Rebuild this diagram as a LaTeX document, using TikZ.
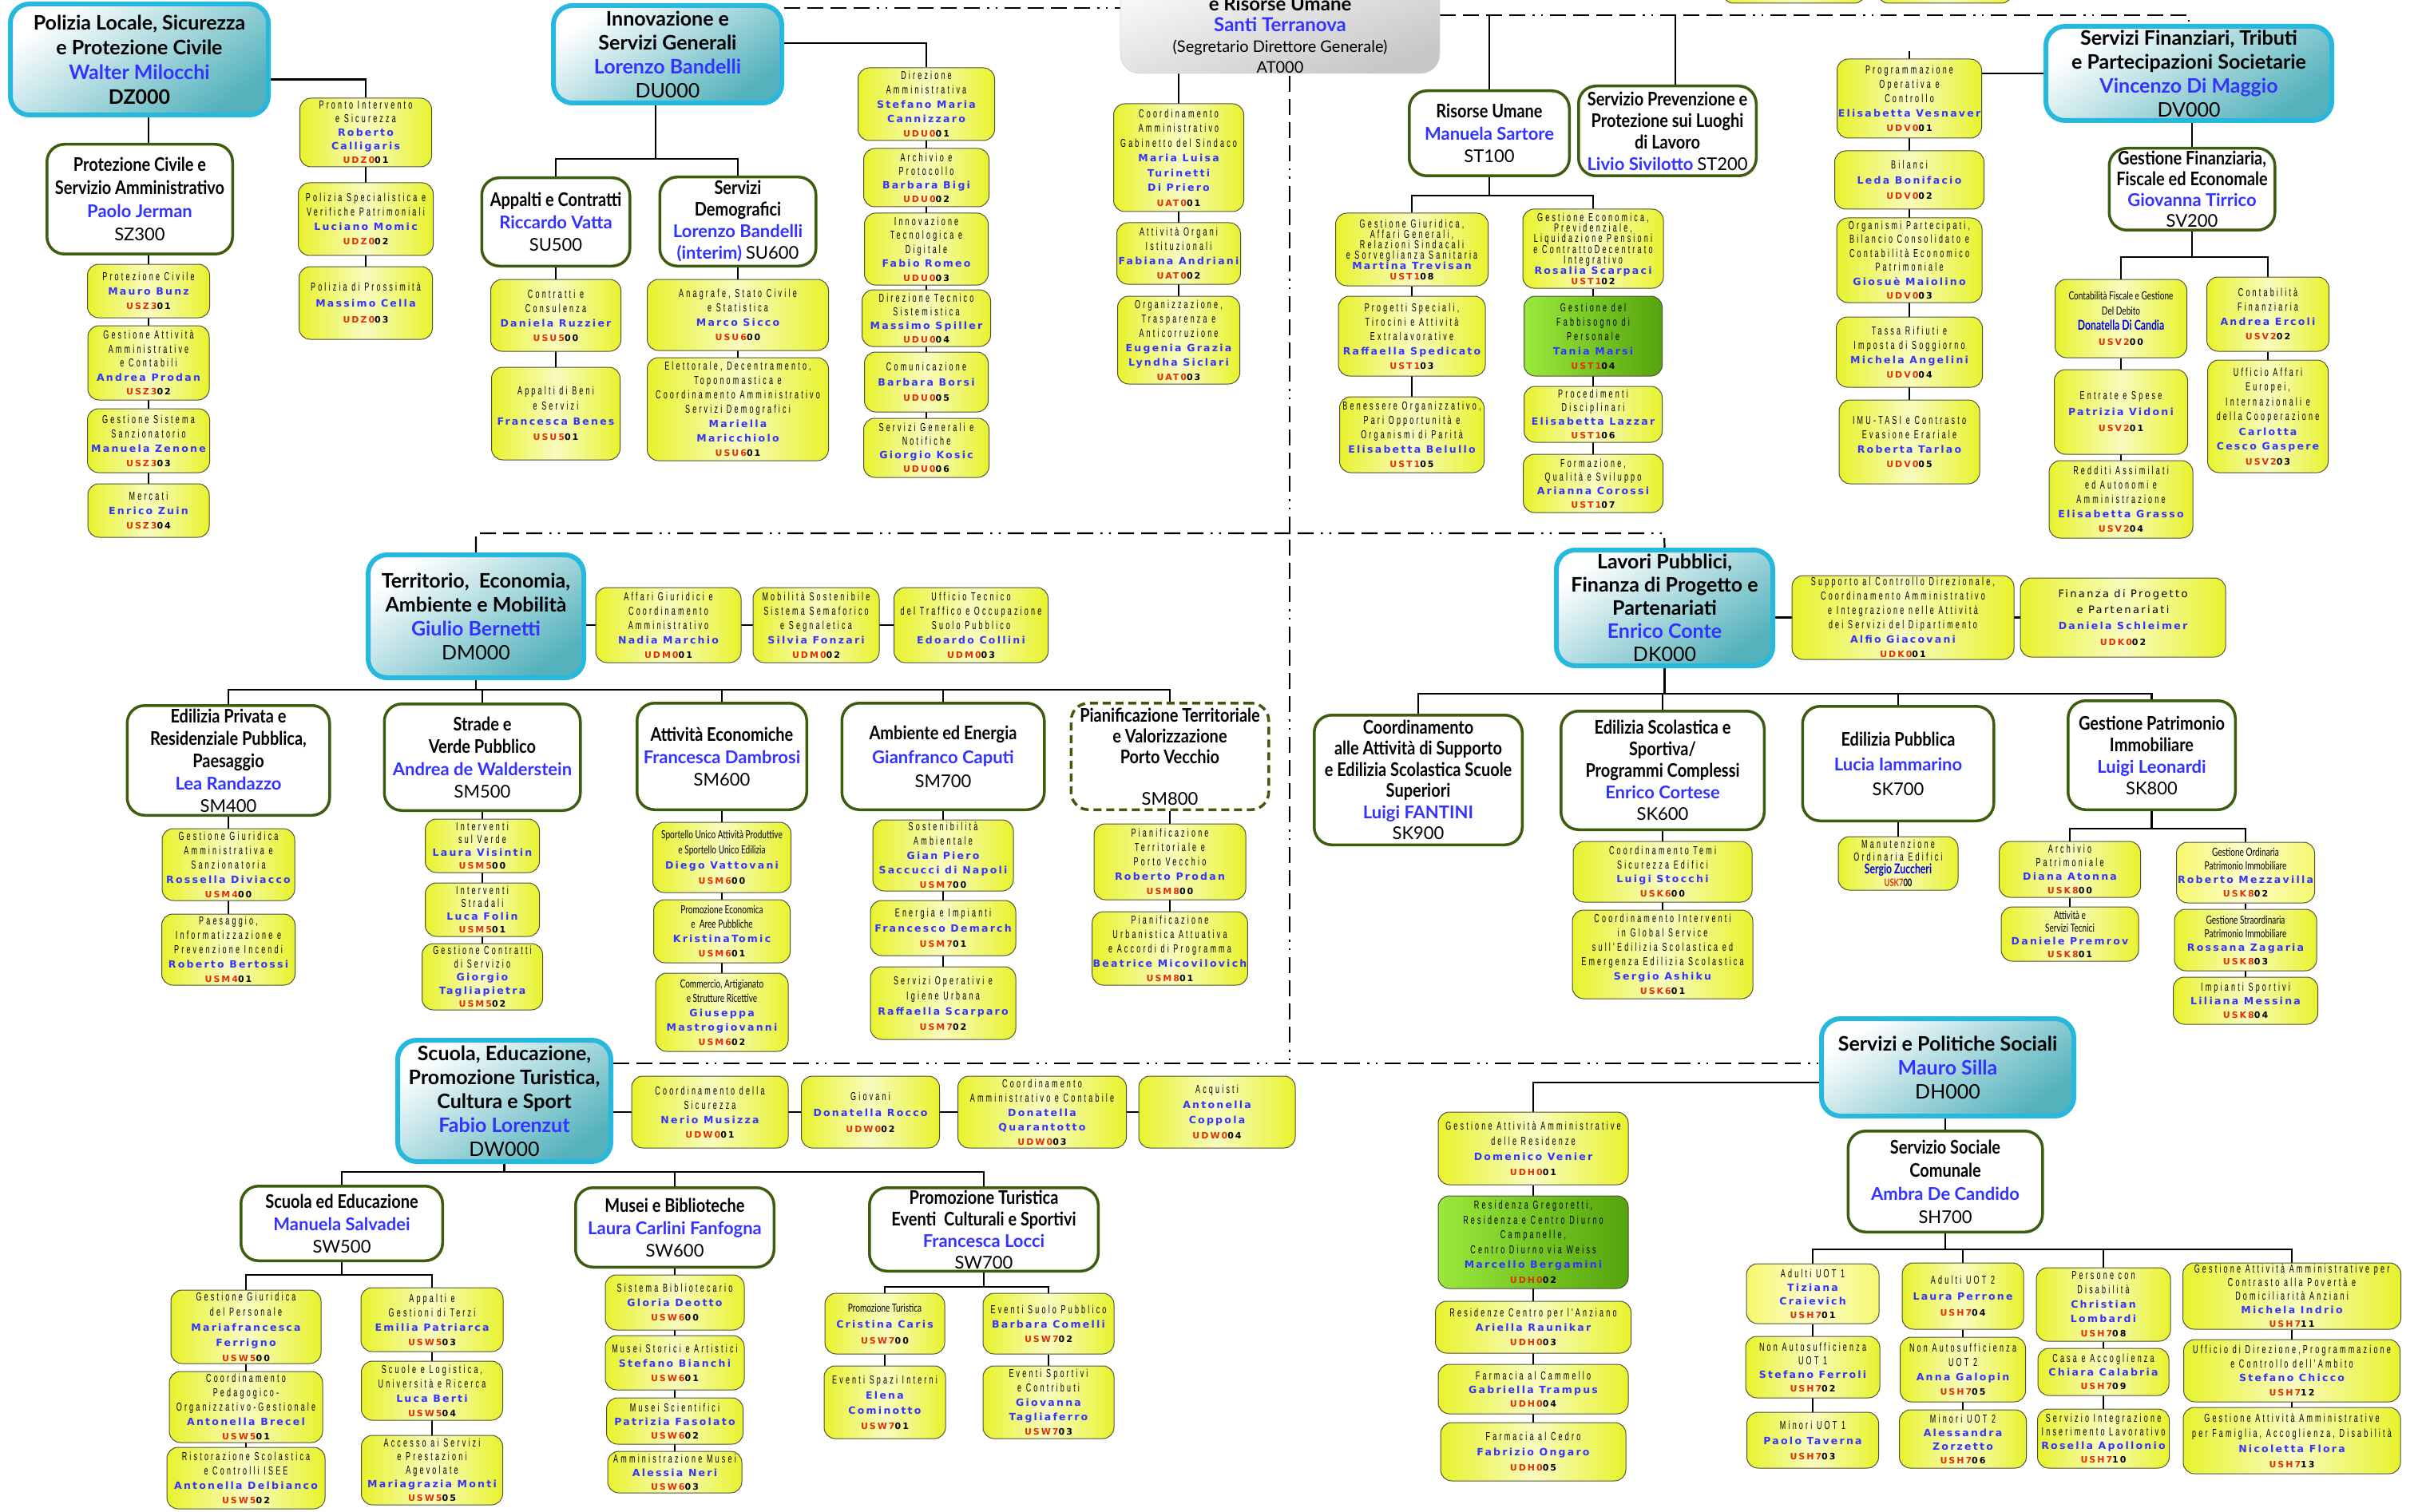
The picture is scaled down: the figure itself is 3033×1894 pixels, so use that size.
\documentclass[tikz,border=0pt]{standalone}
\usepackage{fontspec}
\usetikzlibrary{calc}
\pgfdeclarelayer{bg}\pgfdeclarelayer{lines}\pgfsetlayers{bg,lines,main}
\newfontfamily\dfont{Lato}
\newfontfamily\sfontc[FakeStretch=0.85]{Lato}
\newfontfamily\ufont[FakeStretch=0.62,LetterSpace=22]{Liberation Sans}
\newfontfamily\nfont[LetterSpace=18]{DejaVu Sans}
\newfontfamily\cfont[FakeStretch=0.72]{Lato}
\definecolor{dcyan}{RGB}{40,184,222}
\definecolor{dteal}{RGB}{84,178,188}
\definecolor{sgreen}{RGB}{62,92,14}
\definecolor{uyel}{RGB}{232,243,45}
\definecolor{ulight}{RGB}{248,251,190}
\definecolor{ugray}{RGB}{80,80,60}
\definecolor{nblue}{RGB}{51,51,255}
\definecolor{cblue}{RGB}{0,0,230}
\definecolor{cred}{RGB}{226,48,0}
\definecolor{lgreen}{RGB}{155,232,60}
\definecolor{dgreen}{RGB}{84,164,12}
\definecolor{lyel}{RGB}{246,248,110}
\definecolor{lyel2}{RGB}{252,252,205}
\tikzset{
 conn/.style={line width=2.4pt,black},
 dd/.style={line width=2.2pt,black,dash pattern=on 20pt off 9pt on 20pt off 9pt on 20pt off 9pt on 20pt off 9pt on 2.5pt off 8pt on 2.5pt off 9pt},
 dbox/.style={draw=dcyan,line width=6pt,rounded corners=24pt,top color=white,bottom color=dteal,shading angle=35,align=center,inner sep=1pt},
 atbox/.style={rounded corners=24pt,top color=white,bottom color=black!22,shading angle=20,draw=black!15,line width=0.6pt},
 sbox/.style={draw=sgreen,line width=3.5pt,rounded corners=22pt,fill=white,align=center,inner sep=1pt},
 sboxd/.style={sbox,dash pattern=on 10pt off 6pt},
 ubox/.style={draw=ugray,line width=1pt,rounded corners=14pt,left color=uyel,right color=uyel,middle color=ulight,align=center,inner sep=1pt},
 gbox/.style={ubox,left color=lgreen,right color=dgreen},
 lbox/.style={ubox,left color=lyel,right color=lyel,middle color=lyel2},
}
\newcommand\UB[8]{\node[#1,minimum width=#5pt,minimum height={(#7-#6)*1pt},font=\ufont\fontsize{14.5}{#2}\selectfont] (#3) at (#4,{(#6+#7)/2}) {#8};}
\newcommand\SB[8]{\node[#1,minimum width={(#5-3.5)*1pt},minimum height={(#7-#6-3.5)*1pt},font=\sfontc\bfseries\fontsize{23.5}{#2}\selectfont] (#3) at (#4,{(#6+#7)/2}) {#8};}
\newcommand\DB[7]{\node[dbox,minimum width={(#4-6)*1pt},minimum height={(#6-#5-6)*1pt},font=\dfont\bfseries\fontsize{25}{#1}\selectfont] (#2) at (#3,{(#5+#6)/2}) {#7};}
\newcommand\unm[1]{{\nfont\bfseries\fontsize{12.5}{12.5}\selectfont\color{nblue}#1}}
\newcommand\ucd[2]{{\nfont\bfseries\fontsize{11}{11}\selectfont\color{cred}#1\color{black}#2}}
\newcommand\uct[1]{{\cfont\fontsize{14}{14}\selectfont #1}}
\newcommand\ucn[1]{{\cfont\bfseries\fontsize{17}{17}\selectfont\color{cblue}#1}}
\newcommand\ucc[2]{{\cfont\bfseries\fontsize{13}{13}\selectfont\color{cred}#1\color{black}#2}}
\newcommand\uwt[1]{{\nfont\fontsize{13}{13}\selectfont #1}}
\newcommand\snm[1]{{\dfont\fontsize{22}{22}\selectfont\color{nblue}#1}}
\newcommand\scd[1]{{\dfont\mdseries\fontsize{22}{22}\selectfont #1}}
\newcommand\dnm[1]{{\color{nblue}#1}}
\newcommand\dcd[1]{{\mdseries #1}}
\begin{document}
\begin{tikzpicture}[x=1pt,y=-1pt]
\begin{pgfonlayer}{bg}\fill[white] (0,0) rectangle (3033,1894);\end{pgfonlayer}
\useasboundingbox (0,0) rectangle (3033,1894);

% ---------- directions ----------
\DB{31}{DZ}{174.5}{329}{2}{147}{Polizia Locale, Sicurezza\\e Protezione Civile\\\dnm{Walter Milocchi}\\DZ000}
\DB{30}{DU}{836}{292}{4}{132}{Innovazione e\\Servizi Generali\\\dnm{Lorenzo Bandelli}\\\dcd{DU000}}
\DB{30}{DV}{2741}{364}{30}{154}{Servizi Finanziari, Tributi\\e Partecipazioni Societarie\\\dnm{Vincenzo Di Maggio}\\\dcd{DV000}}
\DB{30}{DM}{596}{276}{692}{852}{Territorio,\ \ Economia,\\Ambiente e Mobilità\\\dnm{Giulio Bernetti}\\\dcd{DM000}}
\DB{29}{DK}{2084.5}{277}{686}{837}{Lavori Pubblici,\\Finanza di Progetto e\\Partenariati\\\dnm{Enrico Conte}\\\dcd{DK000}}
\DB{30}{DW}{631.5}{273}{1300}{1458}{Scuola, Educazione,\\Promozione Turistica,\\Cultura e Sport\\\dnm{Fabio Lorenzut}\\\dcd{DW000}}
\DB{30}{DH}{2439}{322}{1273}{1401}{Servizi e Politiche Sociali\\\dnm{Mauro Silla}\\\dcd{DH000}}
\node[atbox,minimum width=400pt,minimum height=152pt] (AT) at (1603,16) {};
\node[align=center,font=\dfont\fontsize{20}{26}\selectfont,inner sep=0pt] (ATtxt) at (1603,44) {{\bfseries\fontsize{24}{24}\selectfont e Risorse Umane}\\{\bfseries\fontsize{24}{24}\selectfont\color{nblue}Santi Terranova}\\(Segretario Direttore Generale)\\AT000};
\node[ubox,minimum width=179pt,minimum height=50pt] (topA) at (2246.5,-21) {};
\node[ubox,minimum width=169pt,minimum height=50pt] (topB) at (2435.5,-21) {};

% ---------- services ----------
\SB{sbox}{29}{SZ300}{175}{236}{179}{320}{Protezione Civile e\\Servizio Amministrativo\\\snm{Paolo Jerman}\\\scd{SZ300}}
\SB{sbox}{28}{SU500}{696}{189}{221}{335}{Appalti e Contratti\\\snm{Riccardo Vatta}\\\scd{SU500}}
\SB{sbox}{27}{SU600}{924}{199}{220}{335}{Servizi\\Demografici\\\snm{Lorenzo Bandelli}\\\snm{(interim)} \scd{SU600}}
\SB{sbox}{28}{ST100}{1865}{204}{112}{222}{Risorse Umane\\\snm{Manuela Sartore}\\\scd{ST100}}
\SB{sbox}{27}{ST200}{2088}{226}{106}{222}{Servizio Prevenzione e\\Protezione sui Luoghi\\di Lavoro\\\snm{Livio Sivilotto} \scd{ST200}}
\SB{sbox}{26}{SV200}{2745}{211}{184}{290}{Gestione Finanziaria,\\Fiscale ed Economale\\\snm{Giovanna Tirrico}\\\scd{SV200}}
\SB{sbox}{28}{SM400}{286}{257}{882}{1023}{Edilizia Privata e\\Residenziale Pubblica,\\Paesaggio\\\snm{Lea Randazzo}\\\scd{SM400}}
\SB{sbox}{28}{SM500}{604}{249}{880}{1017}{Strade e\\Verde Pubblico\\\snm{Andrea de Walderstein}\\\scd{SM500}}
\SB{sbox}{28}{SM600}{904}{216}{879}{1016}{Attività Economiche\\\snm{Francesca Dambrosi}\\\scd{SM600}}
\SB{sbox}{30}{SM700}{1181}{257}{879}{1016}{Ambiente ed Energia\\\snm{Gianfranco Caputi}\\\scd{SM700}}
\SB{sboxd}{26}{SM800}{1465}{251}{879}{1016}{Pianificazione Territoriale\\e Valorizzazione\\Porto Vecchio\\\mbox{}\\\scd{SM800}}
\SB{sbox}{26.5}{SK900}{1776}{264}{894}{1060}{Coordinamento\\alle Attività di Supporto\\e Edilizia Scolastica Scuole\\Superiori\\\snm{Luigi FANTINI}\\\scd{SK900}}
\SB{sbox}{27}{SK600}{2082}{258}{889}{1041}{Edilizia Scolastica e\\Sportiva/\\Programmi Complessi\\\snm{Enrico Cortese}\\\scd{SK600}}
\SB{sbox}{31}{SK700}{2377}{243}{883}{1030}{Edilizia Pubblica\\\snm{Lucia Iammarino}\\\scd{SK700}}
\SB{sbox}{27}{SK800}{2694.5}{213}{876}{1016}{Gestione Patrimonio\\Immobiliare\\\snm{Luigi Leonardi}\\\scd{SK800}}
\SB{sbox}{28}{SW500}{428}{256}{1484}{1581}{Scuola ed Educazione\\\snm{Manuela Salvadei}\\\scd{SW500}}
\SB{sbox}{28}{SW600}{845}{252}{1486}{1589}{Musei e Biblioteche\\\snm{Laura Carlini Fanfogna}\\\scd{SW600}}
\SB{sbox}{27}{SW700}{1232}{290}{1486}{1594}{Promozione Turistica\\Eventi\ \ Culturali e Sportivi\\\snm{Francesca Locci}\\\scd{SW700}}
\SB{sbox}{29}{SH700}{2436}{247}{1415}{1545}{Servizio Sociale\\Comunale\\\snm{Ambra De Candido}\\\scd{SH700}}

% ---------- units: DZ ----------
\UB{ubox}{17}{UDZ001}{458}{165}{123}{209}{Pronto Intervento\\e Sicurezza\\\unm{Roberto}\\\unm{Calligaris}\\\ucd{UDZ0}{01}}
\UB{ubox}{18}{UDZ002}{458}{169}{229}{320}{Polizia Specialistica e\\Verifiche Patrimoniali\\\unm{Luciano Momic}\\\ucd{UDZ0}{02}}
\UB{ubox}{20}{UDZ003}{458}{167}{334}{425}{Polizia di Prossimità\\\unm{Massimo Cella}\\\ucd{UDZ0}{03}}
\UB{ubox}{18}{USZ301}{186}{153}{331}{398}{Protezione Civile\\\unm{Mauro Bunz}\\\ucd{USZ3}{01}}
\UB{ubox}{17.5}{USZ302}{186}{152}{408}{501}{Gestione Attività\\Amministrative\\e Contabili\\\unm{Andrea Prodan}\\\ucd{USZ3}{02}}
\UB{ubox}{18}{USZ303}{186}{153}{512}{592}{Gestione Sistema\\Sanzionatorio\\\unm{Manuela Zenone}\\\ucd{USZ3}{03}}
\UB{ubox}{18}{USZ304}{186}{152}{606}{673}{Mercati\\\unm{Enrico Zuin}\\\ucd{USZ3}{04}}
% DU
\UB{ubox}{18}{USU500}{696}{163}{350}{440}{Contratti e\\Consulenza\\\unm{Daniela Ruzzier}\\\ucd{USU5}{00}}
\UB{ubox}{19}{USU501}{696}{161}{460}{576}{Appalti di Beni\\e Servizi\\\unm{Francesca Benes}\\\ucd{USU5}{01}}
\UB{ubox}{18}{USU600}{924}{227}{350}{439}{Anagrafe, Stato Civile\\e Statistica\\\unm{Marco Sicco}\\\ucd{USU6}{00}}
\UB{ubox}{18}{USU601}{924}{227}{448}{577}{Elettorale, Decentramento,\\Toponomastica e\\Coordinamento Amministrativo\\Servizi Demografici\\\unm{Mariella}\\\unm{Maricchiolo}\\\ucd{USU6}{01}}
\UB{ubox}{18}{UDU001}{1160}{171}{85}{176}{Direzione\\Amministrativa\\\unm{Stefano Maria}\\\unm{Cannizzaro}\\\ucd{UDU0}{01}}
\UB{ubox}{17}{UDU002}{1160}{157}{186}{259}{Archivio e\\Protocollo\\\unm{Barbara Bigi}\\\ucd{UDU0}{02}}
\UB{ubox}{17.5}{UDU003}{1160}{155}{267}{357}{Innovazione\\Tecnologica e\\Digitale\\\unm{Fabio Romeo}\\\ucd{UDU0}{03}}
\UB{ubox}{17}{UDU004}{1160}{161}{363}{434}{Direzione Tecnico\\Sistemistica\\\unm{Massimo Spiller}\\\ucd{UDU0}{04}}
\UB{ubox}{19}{UDU005}{1160}{155}{441}{516}{Comunicazione\\\unm{Barbara Borsi}\\\ucd{UDU0}{05}}
\UB{ubox}{17}{UDU006}{1160}{157}{524}{598}{Servizi Generali e\\Notifiche\\\unm{Giorgio Kosic}\\\ucd{UDU0}{06}}
% AT
\UB{ubox}{18.5}{UAT001}{1476}{163}{130}{265}{Coordinamento\\Amministrativo\\Gabinetto del Sindaco\\\unm{Maria Luisa}\\\unm{Turinetti}\\\unm{Di Priero}\\\ucd{UAT0}{01}}
\UB{ubox}{18}{UAT002}{1476}{155}{279}{356}{Attività Organi\\Istituzionali\\\unm{Fabiana Andriani}\\\ucd{UAT0}{02}}
\UB{ubox}{18}{UAT003}{1476}{153}{371}{481}{Organizzazione,\\Trasparenza e\\Anticorruzione\\\unm{Eugenia Grazia}\\\unm{Lyndha Siclari}\\\ucd{UAT0}{03}}
% ST
\UB{ubox}{13}{UST108}{1768}{191}{267}{358}{Gestione Giuridica,\\Affari Generali,\\Relazioni Sindacali\\e Sorveglianza Sanitaria\\\unm{Martina Trevisan}\\\ucd{UST1}{08}}
\UB{ubox}{18}{UST103}{1768}{184}{371}{471}{Progetti Speciali,\\Tirocini e Attività\\Extralavorative\\\unm{Raffaella Spedicato}\\\ucd{UST1}{03}}
\UB{ubox}{18}{UST105}{1768}{181}{497}{592}{Benessere Organizzativo,\\Pari Opportunità e\\Organismi di Parità\\\unm{Elisabetta Belullo}\\\ucd{UST1}{05}}
\UB{ubox}{13}{UST102}{1995}{176}{262}{361}{Gestione Economica,\\Previdenziale,\\Liquidazione Pensioni\\e ContrattoDecentrato\\Integrativo\\\unm{Rosalia Scarpaci}\\\ucd{UST1}{02}}
\UB{gbox}{18}{UST104}{1995}{173}{371}{471}{Gestione del\\Fabbisogno di\\Personale\\\unm{Tania Marsi}\\\ucd{UST1}{04}}
\UB{ubox}{17}{UST106}{1995}{173}{484}{554}{Procedimenti\\Disciplinari\\\unm{Elisabetta Lazzar}\\\ucd{UST1}{06}}
\UB{ubox}{17}{UST107}{1995}{175}{569}{642}{Formazione,\\Qualità e Sviluppo\\\unm{Arianna Corossi}\\\ucd{UST1}{07}}
% DV
\UB{ubox}{18}{UDV001}{2391}{181}{74}{173}{Programmazione\\Operativa e\\Controllo\\\unm{Elisabetta Vesnaver}\\\ucd{UDV0}{01}}
\UB{ubox}{19}{UDV002}{2391}{187}{189}{262}{Bilanci\\\unm{Leda Bonifacio}\\\ucd{UDV0}{02}}
\UB{ubox}{17.5}{UDV003}{2391}{182}{273}{379}{Organismi Partecipati,\\Bilancio Consolidato e\\Contabilità Economico\\Patrimoniale\\\unm{Giosuè Maiolino}\\\ucd{UDV0}{03}}
\UB{ubox}{18}{UDV004}{2391}{183}{397}{485}{Tassa Rifiuti e\\Imposta di Soggiorno\\\unm{Michela Angelini}\\\ucd{UDV0}{04}}
\UB{ubox}{18}{UDV005}{2391}{176}{501}{606}{IMU-TASI e Contrasto\\Evasione Erariale\\\unm{Roberta Tarlao}\\\ucd{UDV0}{05}}
\UB{ubox}{19}{USV200}{2656}{165}{350}{448}{\uct{Contabilità Fiscale e Gestione}\\\uct{Del Debito}\\\ucn{Donatella Di Candia}\\\ucd{USV2}{00}}
\UB{ubox}{20}{USV201}{2656}{167}{463}{569}{Entrate e Spese\\\unm{Patrizia Vidoni}\\\ucd{USV2}{01}}
\UB{ubox}{18}{USV204}{2656}{180}{577}{674}{Redditi Assimilati\\ed Autonomi e\\Amministrazione\\\unm{Elisabetta Grasso}\\\ucd{USV2}{04}}
\UB{ubox}{18}{USV202}{2840}{153}{347}{440}{Contabilità\\Finanziaria\\\unm{Andrea Ercoli}\\\ucd{USV2}{02}}
\UB{ubox}{18.5}{USV203}{2840}{151}{451}{592}{Ufficio Affari\\Europei,\\Internazionali e\\della Cooperazione\\\unm{Carlotta}\\\unm{Cesco Gaspere}\\\ucd{USV2}{03}}
% DM
\UB{ubox}{18}{UDM001}{837}{182}{736}{830}{Affari Giuridici e\\Coordinamento\\Amministrativo\\\unm{Nadia Marchio}\\\ucd{UDM0}{01}}
\UB{ubox}{18}{UDM002}{1022}{158}{736}{830}{Mobilità Sostenibile\\Sistema Semaforico\\e Segnaletica\\\unm{Silvia Fonzari}\\\ucd{UDM0}{02}}
\UB{ubox}{18}{UDM003}{1216}{193}{736}{830}{Ufficio Tecnico\\del Traffico e Occupazione\\Suolo Pubblico\\\unm{Edoardo Collini}\\\ucd{UDM0}{03}}
\UB{ubox}{18}{USM400}{286}{166}{1038}{1128}{Gestione Giuridica\\Amministrativa e\\Sanzionatoria\\\unm{Rossella Diviacco}\\\ucd{USM4}{00}}
\UB{ubox}{18}{USM401}{286}{167}{1145}{1234}{Paesaggio,\\Informatizzazione e\\Prevenzione Incendi\\\unm{Roberto Bertossi}\\\ucd{USM4}{01}}
\UB{ubox}{16}{USM500}{604}{143}{1026}{1093}{Interventi\\sul Verde\\\unm{Laura Visintin}\\\ucd{USM5}{00}}
\UB{ubox}{16}{USM501}{604}{143}{1106}{1173}{Interventi\\Stradali\\\unm{Luca Folin}\\\ucd{USM5}{01}}
\UB{ubox}{16.5}{USM502}{604}{151}{1182}{1265}{Gestione Contratti\\di Servizio\\\unm{Giorgio}\\\unm{Tagliapietra}\\\ucd{USM5}{02}}
\UB{ubox}{19}{USM600}{904}{173}{1030}{1118}{\uct{Sportello Unico Attività Produttive}\\\uct{e Sportello Unico Edilizia}\\\unm{Diego Vattovani}\\\ucd{USM6}{00}}
\UB{ubox}{18}{USM601}{904}{171}{1127}{1206}{\uct{Promozione Economica}\\\uct{e\ \ Aree Pubbliche}\\\unm{KristinaTomic}\\\ucd{USM6}{01}}
\UB{ubox}{18}{USM602}{904}{166}{1219}{1317}{\uct{Commercio, Artigianato}\\\uct{e Strutture Ricettive}\\\unm{Giuseppa}\\\unm{Mastrogiovanni}\\\ucd{USM6}{02}}
\UB{ubox}{18}{USM700}{1181}{176}{1027}{1116}{Sostenibilità\\Ambientale\\\unm{Gian Piero}\\\unm{Saccucci di Napoli}\\\ucd{USM7}{00}}
\UB{ubox}{19}{USM701}{1181}{182}{1128}{1197}{Energia e Impianti\\\unm{Francesco Demarch}\\\ucd{USM7}{01}}
\UB{ubox}{19}{USM702}{1181}{182}{1211}{1302}{Servizi Operativi e\\Igiene Urbana\\\unm{Raffaella Scarparo}\\\ucd{USM7}{02}}
\UB{ubox}{18}{USM800}{1465}{190}{1032}{1127}{Pianificazione\\Territoriale e\\Porto Vecchio\\\unm{Roberto Prodan}\\\ucd{USM8}{00}}
\UB{ubox}{18}{USM801}{1465}{194}{1142}{1234}{Pianificazione\\Urbanistica Attuativa\\e Accordi di Programma\\\unm{Beatrice Micovilovich}\\\ucd{USM8}{01}}
% DK
\UB{ubox}{18}{UDK001}{2383}{278}{721}{826}{Supporto al Controllo Direzionale,\\Coordinamento Amministrativo\\e Integrazione nelle Attività\\dei Servizi del Dipartimento\\\unm{Alfio Giacovani}\\\ucd{UDK0}{01}}
\UB{ubox}{20}{UDK002}{2658.5}{257}{724}{823}{\uwt{Finanza di Progetto}\\\uwt{e Partenariati}\\\unm{Daniela Schleimer}\\\ucd{UDK0}{02}}
\UB{ubox}{17.5}{USK600}{2082}{224}{1054}{1130}{Coordinamento Temi\\Sicurezza Edifici\\\unm{Luigi Stocchi}\\\ucd{USK6}{00}}
\UB{ubox}{18}{USK601}{2082}{226}{1140}{1251}{Coordinamento Interventi\\in Global Service\\sull'Edilizia Scolastica ed\\Emergenza Edilizia Scolastica\\\unm{Sergio Ashiku}\\\ucd{USK6}{01}}
\UB{ubox}{16}{USK700}{2377}{150}{1048}{1115}{Manutenzione\\Ordinaria Edifici\\\ucn{Sergio Zuccheri}\\\ucc{USK7}{00}}
\UB{ubox}{17}{USK800}{2592}{177}{1054}{1124}{Archivio\\Patrimoniale\\\unm{Diana Atonna}\\\ucd{USK8}{00}}
\UB{ubox}{16}{USK801}{2592}{172}{1136}{1204}{\uct{Attività e}\\\uct{Servizi Tecnici}\\\unm{Daniele Premrov}\\\ucd{USK8}{01}}
\UB{lbox}{17}{USK802}{2812}{173}{1055}{1131}{\uct{Gestione Ordinaria}\\\uct{Patrimonio Immobiliare}\\\unm{Roberto Mezzavilla}\\\ucd{USK8}{02}}
\UB{ubox}{17}{USK803}{2812}{178}{1139}{1216}{\uct{Gestione Straordinaria}\\\uct{Patrimonio Immobiliare}\\\unm{Rossana Zagaria}\\\ucd{USK8}{03}}
\UB{ubox}{17}{USK804}{2812}{181}{1224}{1283}{Impianti Sportivi\\\unm{Liliana Messina}\\\ucd{USK8}{04}}
% DW
\UB{ubox}{18}{UDW001}{889}{196}{1348}{1438}{Coordinamento della\\Sicurezza\\\unm{Nerio Musizza}\\\ucd{UDW0}{01}}
\UB{ubox}{20}{UDW002}{1090}{173}{1348}{1438}{Giovani\\\unm{Donatella Rocco}\\\ucd{UDW0}{02}}
\UB{ubox}{18}{UDW003}{1305}{211}{1348}{1438}{Coordinamento\\Amministrativo e Contabile\\\unm{Donatella}\\\unm{Quarantotto}\\\ucd{UDW0}{03}}
\UB{ubox}{19}{UDW004}{1524}{196}{1348}{1438}{Acquisti\\\unm{Antonella}\\\unm{Coppola}\\\ucd{UDW0}{04}}
\UB{ubox}{19}{USW500}{308}{188}{1616}{1708}{Gestione Giuridica\\del Personale\\\unm{Mariafrancesca}\\\unm{Ferrigno}\\\ucd{USW5}{00}}
\UB{ubox}{18}{USW501}{308}{192}{1718}{1807}{Coordinamento\\Pedagogico-\\Organizzativo-Gestionale\\\unm{Antonella Brecel}\\\ucd{USW5}{01}}
\UB{ubox}{18}{USW502}{308}{198}{1813}{1890}{Ristorazione Scolastica\\e Controlli ISEE\\\unm{Antonella Delbianco}\\\ucd{USW5}{02}}
\UB{ubox}{18}{USW503}{541}{178}{1613}{1693}{Appalti e\\Gestioni di Terzi\\\unm{Emilia Patriarca}\\\ucd{USW5}{03}}
\UB{ubox}{18}{USW504}{541}{177}{1705}{1779}{Scuole e Logistica,\\Università e Ricerca\\\unm{Luca Berti}\\\ucd{USW5}{04}}
\UB{ubox}{17}{USW505}{541}{177}{1798}{1885}{Accesso ai Servizi\\e Prestazioni\\Agevolate\\\unm{Mariagrazia Monti}\\\ucd{USW5}{05}}
\UB{ubox}{18}{USW600}{845}{174}{1597}{1666}{Sistema Bibliotecario\\\unm{Gloria Deotto}\\\ucd{USW6}{00}}
\UB{ubox}{18}{USW601}{845}{174}{1673}{1741}{Musei Storici e Artistici\\\unm{Stefano Bianchi}\\\ucd{USW6}{01}}
\UB{ubox}{17}{USW602}{845}{171}{1751}{1809}{Musei Scientifici\\\unm{Patrizia Fasolato}\\\ucd{USW6}{02}}
\UB{ubox}{17}{USW603}{845}{168}{1818}{1870}{Amministrazione Musei\\\unm{Alessia Neri}\\\ucd{USW6}{03}}
\UB{ubox}{20}{USW700}{1108}{150}{1620}{1696}{\uct{Promozione Turistica}\\\unm{Cristina Caris}\\\ucd{USW7}{00}}
\UB{ubox}{19}{USW701}{1108}{152}{1711}{1802}{Eventi Spazi Interni\\\unm{Elena}\\\unm{Cominotto}\\\ucd{USW7}{01}}
\UB{ubox}{18}{USW702}{1313}{164}{1620}{1696}{Eventi Suolo Pubblico\\\unm{Barbara Comelli}\\\ucd{USW7}{02}}
\UB{ubox}{18}{USW703}{1313}{164}{1711}{1802}{Eventi Sportivi\\e Contributi\\\unm{Giovanna}\\\unm{Tagliaferro}\\\ucd{USW7}{03}}
% DH
\UB{ubox}{19}{UDH001}{1920}{238}{1393}{1484}{Gestione Attività Amministrative\\delle Residenze\\\unm{Domenico Venier}\\\ucd{UDH0}{01}}
\UB{gbox}{18.5}{UDH002}{1920}{238}{1498}{1614}{Residenza Gregoretti,\\Residenza e Centro Diurno\\Campanelle,\\Centro Diurno via Weiss\\\unm{Marcello Bergamini}\\\ucd{UDH0}{02}}
\UB{ubox}{18}{UDH003}{1920}{245}{1630}{1695}{Residenze Centro per l'Anziano\\\unm{Ariella Raunikar}\\\ucd{UDH0}{03}}
\UB{ubox}{17}{UDH004}{1920}{238}{1709}{1771}{Farmacia al Cammello\\\unm{Gabriella Trampus}\\\ucd{UDH0}{04}}
\UB{ubox}{19}{UDH005}{1920}{232}{1782}{1855}{Farmacia al Cedro\\\unm{Fabrizio Ongaro}\\\ucd{UDH0}{05}}
\UB{lbox}{17}{USH701}{2270}{166}{1583}{1658}{Adulti UOT 1\\\unm{Tiziana}\\\unm{Craievich}\\\ucd{USH7}{01}}
\UB{ubox}{17}{USH702}{2270}{168}{1674}{1751}{Non Autosufficienza\\UOT 1\\\unm{Stefano Ferroli}\\\ucd{USH7}{02}}
\UB{ubox}{19}{USH703}{2270}{165}{1769}{1839}{Minori UOT 1\\\unm{Paolo Taverna}\\\ucd{USH7}{03}}
\UB{ubox}{20}{USH704}{2458}{152}{1582}{1665}{Adulti UOT 2\\\unm{Laura Perrone}\\\ucd{USH7}{04}}
\UB{ubox}{18}{USH705}{2458}{157}{1675}{1756}{Non Autosufficienza\\UOT 2\\\unm{Anna Galopin}\\\ucd{USH7}{05}}
\UB{ubox}{17}{USH706}{2458}{159}{1766}{1839}{Minori UOT 2\\\unm{Alessandra}\\\unm{Zorzetto}\\\ucd{USH7}{06}}
\UB{ubox}{18}{USH708}{2634}{168}{1588}{1680}{Persone con\\Disabilità\\\unm{Christian}\\\unm{Lombardi}\\\ucd{USH7}{08}}
\UB{ubox}{17}{USH709}{2634}{164}{1689}{1748}{Casa e Accoglienza\\\unm{Chiara Calabria}\\\ucd{USH7}{09}}
\UB{ubox}{17}{USH710}{2634}{165}{1765}{1839}{Servizio Integrazione\\Inserimento Lavorativo\\\unm{Rosella Apollonio}\\\ucd{USH7}{10}}
\UB{ubox}{17}{USH711}{2870}{273}{1582}{1665}{Gestione Attività Amministrative per\\Contrasto alla Povertà e\\Domiciliarità Anziani\\\unm{Michela Indrio}\\\ucd{USH7}{11}}
\UB{ubox}{17.5}{USH712}{2870}{271}{1678}{1756}{Ufficio di Direzione,Programmazione\\e Controllo dell'Ambito\\\unm{Stefano Chicco}\\\ucd{USH7}{12}}
\UB{ubox}{19}{USH713}{2870}{272}{1763}{1846}{Gestione Attività Amministrative\\per Famiglia, Accoglienza, Disabilità\\\unm{Nicoletta Flora}\\\ucd{USH7}{13}}

% ---------- connectors ----------
\begin{pgfonlayer}{lines}
\coordinate (ddA) at (982,10); \coordinate (ddB) at (1403,10);
\coordinate (ddC) at (1803,19);
\coordinate (ddE) at (1615,95); \coordinate (ddF) at (1615,1332);
\coordinate (ddG) at (596,668); \coordinate (ddH) at (2084,668);
\draw[dd] (ddA) -- (ddB);
\draw[dd] (ddC) -- (ddC -| DV.north) -- (DV.north);
\draw[dd] (ddE) -- (ddF);
\draw[dd] (DM.north) -- (ddG) -- (ddH) -- (DK.north);
\draw[dd] (DW.east |- ddF) -- (DH.west |- ddF);
\coordinate (tST1) at (1865,19); \coordinate (tST2) at (2098,19);
\draw[conn] (tST1) -- (ST100.north);
\draw[conn] (tST2) -- (tST2 |- ST200.north);
% DZ
\draw[conn] (USZ304.north |- DZ.south) -- (USZ304.north);
\draw[conn] ([yshift=-25pt]DZ.east) -| (UDZ001.north);
\draw[conn] (UDZ001.south) -- (UDZ003.north);
% DU
\coordinate (DUj) at (821,199);
\draw[conn] (DUj |- DU.south) -- (DUj);
\draw[conn] (SU500.north) |- (DUj) -| (SU600.north);
\draw[conn] (SU500.south) -- (USU501.north);
\draw[conn] (SU600.south) -- (USU601.north);
\draw[conn] ([yshift=14pt]DU.east) -| (UDU001.north);
\draw[conn] (UDU001.south) -- (UDU006.north);
% AT
\draw[conn] (AT.south -| UAT001.north) -- (UAT003.north);
% ST
\coordinate (STj) at (1865,245);
\draw[conn] (ST100.south) -- (STj);
\draw[conn] (UST108.north) |- (STj) -| (UST102.north);
\draw[conn] (UST108.south) -- (UST105.north);
\draw[conn] (UST102.south) -- (UST107.north);
% DV
\coordinate (DVt) at (2391,64);
\draw[conn] (DVt) -- (UDV005.north);
\draw[conn] (DV.west) -- (DV.west -| DVt);
\draw[conn] (SV200.north |- DV.south) -- (SV200.north);
\coordinate (SVj) at (2745,322);
\draw[conn] (SV200.south) -- (SVj);
\draw[conn] (USV200.north) |- (SVj) -| (USV202.north);
\draw[conn] (USV200.south) -- (USV204.north);
\draw[conn] (USV202.south) -- (USV203.north);
% DM
\draw[conn] (UDM003.west -| DM.east) -- (UDM003.west);
\coordinate (DMj) at (596,864);
\draw[conn] (DM.south) -- (DMj);
\draw[conn] (SM400.north) |- (DMj) -| (SM800.north);
\draw[conn] (SM500.north) -- (SM500.north |- DMj);
\draw[conn] (SM600.north) -- (SM600.north |- DMj);
\draw[conn] (SM700.north) -- (SM700.north |- DMj);
\draw[conn] (SM400.south) -- (USM401.north);
\draw[conn] (SM500.south) -- (USM502.north);
\draw[conn] (SM600.south) -- (USM602.north);
\draw[conn] (SM700.south) -- (USM702.north);
\draw[conn] (SM800.south) -- (USM801.north);
% DK
\draw[conn] (UDK002.west -| DK.east) -- (UDK002.west);
\coordinate (DKj) at (2084.5,869);
\draw[conn] (DK.south) -- (DKj);
\draw[conn] (SK900.north) |- (DKj) -| (SK800.north);
\draw[conn] (SK600.north) -- (SK600.north |- DKj);
\draw[conn] (SK700.north) -- (SK700.north |- DKj);
\draw[conn] (SK600.south) -- (USK601.north);
\draw[conn] (SK700.south) -- (USK700.north);
\coordinate (SKj) at (2694.5,1038);
\draw[conn] (SK800.south) -- (SKj);
\draw[conn] (USK800.north) |- (SKj) -| (USK802.north);
\draw[conn] (USK800.south) -- (USK801.north);
\draw[conn] (USK802.south) -- (USK804.north);
% DW
\draw[conn] (UDW004.west -| DW.east) -- (UDW004.west);
\coordinate (DWj) at (631.5,1468);
\draw[conn] (DW.south) -- (DWj);
\draw[conn] (SW500.north) |- (DWj) -| (SW700.north);
\draw[conn] (SW600.north) -- (SW600.north |- DWj);
\coordinate (SW5j) at (428,1597);
\draw[conn] (SW500.south) -- (SW5j);
\draw[conn] (USW500.north) |- (SW5j) -| (USW503.north);
\draw[conn] (USW500.south) -- (USW502.north);
\draw[conn] (USW503.south) -- (USW505.north);
\draw[conn] (SW600.south) -- (USW603.north);
\coordinate (SW7j) at (1232,1612);
\draw[conn] (SW700.south) -- (SW7j);
\draw[conn] (USW700.north) |- (SW7j) -| (USW702.north);
\draw[conn] (USW700.south) -- (USW701.north);
\draw[conn] (USW702.south) -- (USW703.north);
% DH
\draw[conn] ([yshift=-19pt]DH.west) -| (UDH001.north);
\draw[conn] (UDH001.south) -- (UDH005.north);
\draw[conn] (SH700.north |- DH.south) -- (SH700.north);
\coordinate (SHj) at (2436,1565);
\draw[conn] (SH700.south) -- (SHj);
\draw[conn] (USH701.north) |- (SHj) -| (USH711.north);
\draw[conn] (USH704.north) -- (USH704.north |- SHj);
\draw[conn] (USH708.north) -- (USH708.north |- SHj);
\draw[conn] (USH701.south) -- (USH703.north);
\draw[conn] (USH704.south) -- (USH706.north);
\draw[conn] (USH708.south) -- (USH710.north);
\draw[conn] (USH711.south) -- (USH713.north);
\end{pgfonlayer}
\end{tikzpicture}
\end{document}
